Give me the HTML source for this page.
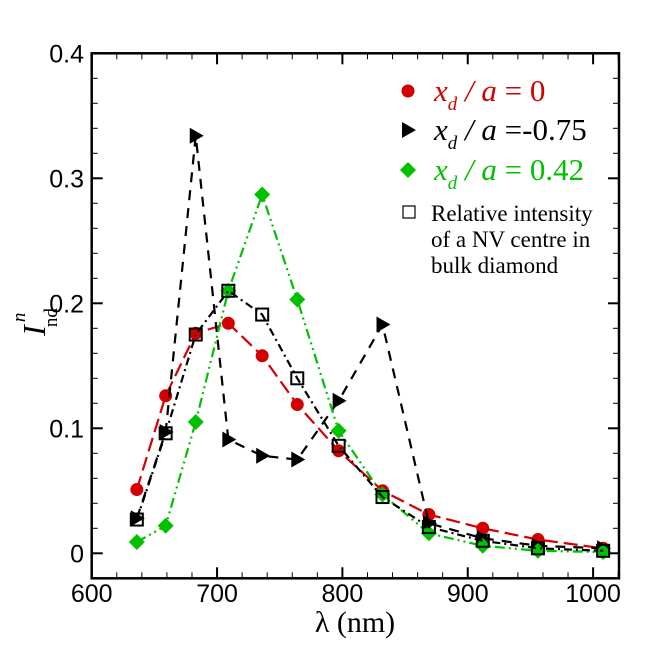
<!DOCTYPE html>
<html><head><meta charset="utf-8"><style>
body{margin:0;background:#fff;}
svg text{font-family:"Liberation Sans",sans-serif;}
.serif{font-family:"Liberation Serif",serif !important;}
</style></head><body>
<svg id="chart" width="651" height="651" viewBox="0 0 651 651" xmlns="http://www.w3.org/2000/svg">
<g id="grid"></g><g id="series"></g>
</svg>
<script>
const wavelengths=[636,659,683,709,736,764,797,832,869,912,956,1008];
const redVals=[0.051,0.126,0.176,0.184,0.158,0.119,0.082,0.050,0.031,0.020,0.011,0.004];
const blackVals=[0.028,0.097,0.334,0.091,0.078,0.075,0.122,0.183,0.024,0.012,0.006,0.004];
const greenVals=[0.009,0.022,0.105,0.210,0.287,0.203,0.098,0.047,0.016,0.006,0.002,0.001];
const bulkVals=[0.027,0.096,0.175,0.210,0.191,0.140,0.086,0.045,0.021,0.010,0.004,0.002];
const xTicks=[600,700,800,900,1000];
const yTicks=[0,0.1,0.2,0.3,0.4];
const NS="http://www.w3.org/2000/svg";
const L=91.7,R=619,T=53.3,B=578.3;
const X=v=>L+(v-600)*1.2535;
const Y=v=>553.3-v*1250;
const svg=document.getElementById('chart');
const g=document.getElementById('grid'), s=document.getElementById('series');
function mk(tag,at,parent){const e=document.createElementNS(NS,tag);for(const k in at)e.setAttribute(k,at[k]);(parent||svg).appendChild(e);return e;}
let e=mk('rect',{x:L,y:T,width:R-L,height:B-T,fill:'none',stroke:'#000','stroke-width':2.5},g);


for(let v=600;v<=1020;v+=20){const x=X(v);const maj=(v%100===0);
 mk('line',{x1:x,y1:B,x2:x,y2:B-(maj?11:6),stroke:'#000','stroke-width':maj?2:1},g);
 mk('line',{x1:x,y1:T,x2:x,y2:T+(maj?11:6),stroke:'#000','stroke-width':maj?2:1},g);}
for(let i=0;i<=22;i++){const v=-0.02+i*0.02;if(v>0.401)break;const y=Y(v);const maj=Math.abs((v*10)-Math.round(v*10))<1e-6;
 if(y>B)continue;
 mk('line',{x1:L,y1:y,x2:L+(maj?11:6),y2:y,stroke:'#000','stroke-width':maj?2:1},g);
 mk('line',{x1:R,y1:y,x2:R-(maj?11:6),y2:y,stroke:'#000','stroke-width':maj?2:1},g);}
xTicks.forEach(v=>{const t=mk('text',{x:X(v),y:602,'font-size':25,'text-anchor':'middle'},g);t.textContent=v;
 
 });
yTicks.forEach(v=>{const t=mk('text',{x:84,y:Y(v)+9,'font-size':25,'text-anchor':'end'},g);t.textContent=v===0?'0':v.toFixed(1);
 
 });
let t=mk('text',{x:355,y:632,'font-size':30,'text-anchor':'middle','class':'serif'},g);t.textContent='λ (nm)';


t=mk('text',{transform:'translate(45,322) rotate(-90)','font-size':32,'class':'serif','text-anchor':'middle'},g);
t.innerHTML='<tspan font-style="italic">I</tspan><tspan font-size="19" dy="12" dx="-2">nd</tspan><tspan font-size="19" font-style="italic" dy="-32" dx="-14">n</tspan>';


function marker(type,x,y,color,parent){
 if(type==='circle')return mk('circle',{cx:x,cy:y,r:6.5,fill:color},parent);
 if(type==='tri')return mk('polygon',{points:`${x-6},${y-8} ${x+8},${y} ${x-6},${y+8}`,fill:color},parent);
 if(type==='diamond')return mk('polygon',{points:`${x},${y-8} ${x+8},${y} ${x},${y+8} ${x-8},${y}`,fill:color},parent);
 return mk('rect',{x:x-6,y:y-6,width:12,height:12,fill:'none',stroke:color,'stroke-width':2},parent);}
function series(vals,color,dash,type,name){
 const pts=vals.map((v,i)=>X(wavelengths[i])+','+Y(v)).join(' ');
 const pl=mk('polyline',{points:pts,fill:'none',stroke:color,'stroke-width':2.2,'stroke-dasharray':dash},s);
 
 
 vals.forEach((v,i)=>{const m=marker(type,X(wavelengths[i]),Y(v),color,s);
  
  });}
series(redVals,'#d40000','14 6','circle','red-series');
series(blackVals,'#000','10 8','tri','black-series');
series(greenVals,'#00c000','10 4 2 4 2 4','diamond','green-series');
series(bulkVals,'#000','8 4 2 4','square','bulk-series');
const lg=mk('g',{},svg);


const items=[['circle','#d40000',91,'0'],['tri','#000',130,'-0.75'],['diamond','#00c000',170,'0.42']];
items.forEach(it=>{marker(it[0],408,it[2],it[1],lg);
 const tx=mk('text',{x:434,y:it[2]+10,'font-size':31,fill:it[1],'class':'serif'},lg);
 tx.innerHTML='<tspan font-style="italic">x</tspan><tspan font-size="19" font-style="italic" dy="9">d</tspan><tspan dy="-9" font-style="italic"> / a </tspan>'+(it[3]==='-0.75'?'=-0.75':'= '+it[3]);
 
 });
mk('rect',{x:403,y:206,width:12,height:12,fill:'none',stroke:'#000','stroke-width':1.2},lg);
['Relative intensity','of a NV centre in','bulk diamond'].forEach((l,i)=>{const tx=mk('text',{x:431,y:221+i*26,'font-size':23,'class':'serif'},lg);tx.textContent=l;
 
 });
</script>
</body></html>
